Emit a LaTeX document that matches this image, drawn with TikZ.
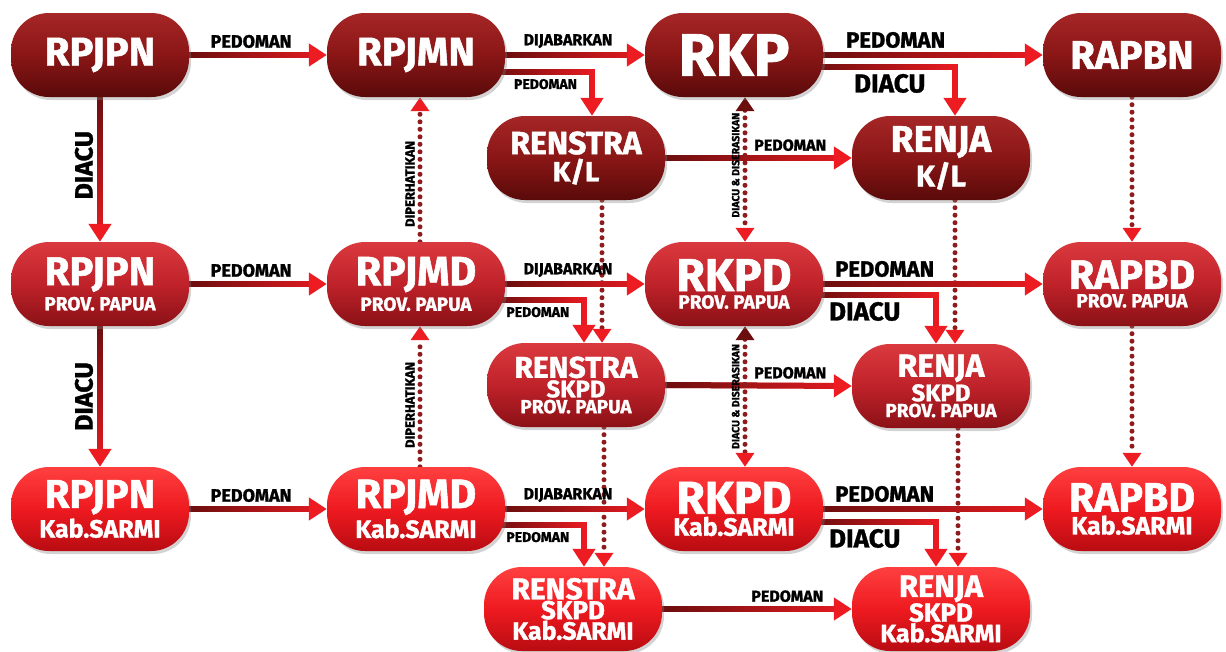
\documentclass[tikz,border=0pt]{standalone}
\usepackage{fontspec}
\setmainfont{Fira Sans}[BoldFeatures={FakeBold=1.3}]
\usetikzlibrary{arrows.meta,shadows,fadings,backgrounds}
\definecolor{aTop}{HTML}{A62626}
\definecolor{aMid}{HTML}{8A1616}
\definecolor{aBot}{HTML}{5A0A0A}
\definecolor{bTop}{HTML}{DA3A3E}
\definecolor{bMid}{HTML}{C0222A}
\definecolor{bBot}{HTML}{8A1116}
\definecolor{cTop}{HTML}{FF4040}
\definecolor{cMid}{HTML}{EE1A20}
\definecolor{cBot}{HTML}{B80C12}
\definecolor{arrred}{HTML}{EC1C22}
\definecolor{arrdark}{HTML}{6A0E0E}
\definecolor{dotc}{HTML}{8E1C1C}
\newcommand\fsz[1]{\fontsize{#1}{#1}\selectfont}
\begin{document}
\begin{tikzpicture}[x=1pt,y=-1pt,
  pill/.style={rectangle, rounded corners=38pt, minimum width=178pt, minimum height=84pt,
    align=center, text=white, inner sep=0pt, font=\bfseries\fontsize{10}{1}\selectfont,
    drop shadow={opacity=0.35, shadow xshift=2pt, shadow yshift=-3pt}},
  lvA/.style={pill, top color=aTop, bottom color=aBot, middle color=aMid},
  lvB/.style={pill, top color=bTop, bottom color=bBot, middle color=bMid},
  lvC/.style={pill, top color=cTop, bottom color=cBot, middle color=cMid},
  conn/.style={draw=arrred, line width=6pt, -{Triangle[width=22pt,length=18pt]}},
  gradE/.style={postaction={draw=arrdark, -, shorten >=18pt, path fading=east}},
  gradS/.style={postaction={draw=arrdark, -, shorten >=18pt, path fading=south}},
  dotl/.style={draw=dotc, line width=5pt, line cap=round, dash pattern=on 0pt off 7.5pt,
    -{Triangle[width=18pt,length=14pt,color=arrred]}},
  dotb/.style={draw=dotc, line width=5pt, line cap=round, dash pattern=on 0pt off 7.5pt,
    {Triangle[width=18pt,length=14pt,color=arrdark]}-{Triangle[width=18pt,length=14pt,color=arrred]}},
  lab/.style={text=black, inner sep=1pt, font=\bfseries\fsz{18}},
  labS/.style={lab, font=\bfseries\fsz{14}},
  labM/.style={lab, font=\bfseries\fsz{16}},
  labL/.style={lab, font=\bfseries\fsz{22}},
  labXL/.style={lab, font=\bfseries\fsz{26}},
  labV/.style={lab, rotate=90, anchor=south, inner sep=4pt, font=\bfseries\fsz{25}},
  labP/.style={lab, rotate=90, anchor=south, inner sep=3pt, font=\bfseries\fsz{13}},
  labD/.style={lab, rotate=90, anchor=south, inner sep=3pt, font=\bfseries\fsz{10.5}}
]
\useasboundingbox (0,0) rectangle (1226,651);
% ---------- row 1 ----------
\node[lvA] (rpjpn)   at (100,55)  {{\fsz{40}RPJPN}};
\node[lvA] (rpjmn)   at (416,55)  {{\fsz{40}RPJMN}};
\node[lvA] (rkp)     at (734,55)  {{\fsz{60}RKP}};
\node[lvA] (rapbn)   at (1132,55) {{\fsz{40}RAPBN}};
\node[lvA] (renstra1) at (576,158) {{\fsz{32}RENSTRA}\\[3pt]{\fsz{28}K/L}};
\node[lvA] (renja1)  at (941,158) {{\fsz{37}RENJA}\\[3pt]{\fsz{30}K/L}};
% ---------- row 2 ----------
\node[lvB] (rpjpn2)  at (100,284) {{\fsz{40}RPJPN}\\[4pt]{\fsz{19}PROV. PAPUA}};
\node[lvB] (rpjmd2)  at (416,284) {{\fsz{41}RPJMD}\\[4pt]{\fsz{19}PROV. PAPUA}};
\node[lvB] (rkpd2)   at (734,284) {{\fsz{46}RKPD}\\[3pt]{\fsz{19}PROV. PAPUA}};
\node[lvB] (rapbd2)  at (1132,284) {{\fsz{41}RAPBD}\\[4pt]{\fsz{19}PROV. PAPUA}};
\node[lvB] (renstra2) at (576,385) {{\fsz{30}RENSTRA}\\[1pt]{\fsz{24}SKPD}\\[1pt]{\fsz{19}PROV. PAPUA}};
\node[lvB] (renja2)  at (941,386) {{\fsz{32}RENJA}\\[1pt]{\fsz{24}SKPD}\\[1pt]{\fsz{19}PROV. PAPUA}};
% ---------- row 3 ----------
\node[lvC] (rpjpn3)  at (100,509) {{\fsz{40}RPJPN}\\[3pt]{\fsz{25}Kab.SARMI}};
\node[lvC] (rpjmd3)  at (416,509) {{\fsz{41}RPJMD}\\[3pt]{\fsz{25}Kab.SARMI}};
\node[lvC] (rkpd3)   at (734,509) {{\fsz{46}RKPD}\\[2pt]{\fsz{25}Kab.SARMI}};
\node[lvC] (rapbd3)  at (1132,509) {{\fsz{41}RAPBD}\\[3pt]{\fsz{25}Kab.SARMI}};
\node[lvC] (renstra3) at (573,609) {{\fsz{30}RENSTRA}\\[0pt]{\fsz{26}SKPD}\\[0pt]{\fsz{25}Kab.SARMI}};
\node[lvC] (renja3)  at (941,609) {{\fsz{31}RENJA}\\[0pt]{\fsz{26}SKPD}\\[0pt]{\fsz{25}Kab.SARMI}};

\begin{pgfonlayer}{background}
% ---- row 1 connectors ----
\draw[conn, gradE] (rpjpn.east) -- node[lab, above=3pt, pos=.45] {PEDOMAN} (rpjmn.west);
\draw[conn, gradE] (rpjmn.east) -- node[labM, above=3pt, pos=.45] {DIJABARKAN} (rkp.west);
\draw[conn, gradE] ([xshift=-10pt,yshift=-17pt]rpjmn.east) -| node[labS, below=3pt, pos=.26] {PEDOMAN} ([xshift=16pt]renstra1.north);
\draw[conn, gradE] (rkp.east) -- node[labL, above=3pt, pos=.33] {PEDOMAN} (rapbn.west);
\draw[conn, gradE] ([xshift=-10pt,yshift=-12pt]rkp.east) -| node[labXL, below=3pt, pos=.27] {DIACU} ([xshift=14pt]renja1.north);
\draw[conn, gradE] (renstra1.east) -- node[labM, above=3pt, pos=.67] {PEDOMAN} (renja1.west);
\draw[conn, gradS] (rpjpn.south) -- node[labV, pos=.47] {DIACU} (rpjpn2.north);
\draw[dotl] ([xshift=4pt]rpjmd2.north) -- node[labP, pos=.4] {DIPERHATIKAN} ([xshift=4pt]rpjmn.south);
\draw[dotb] ([xshift=11pt]rkp.south) -- node[labD, pos=.47] {DIACU \& DISERASIKAN} ([xshift=11pt]rkpd2.north);
\draw[dotl] (rapbn.south) -- (rapbd2.north);
\draw[dotl] ([xshift=26pt]renstra1.south) -- ([xshift=26pt]renstra2.north);
\draw[dotl] ([xshift=14pt]renja1.south) -- ([xshift=14pt]renja2.north);
% ---- row 2 connectors ----
\draw[conn, gradE] (rpjpn2.east) -- node[lab, above=3pt, pos=.45] {PEDOMAN} (rpjmd2.west);
\draw[conn, gradE] (rpjmd2.east) -- node[labM, above=3pt, pos=.45] {DIJABARKAN} (rkpd2.west);
\draw[conn, gradE] ([xshift=-10pt,yshift=-16pt]rpjmd2.east) -| node[labS, below=3pt, pos=.24] {PEDOMAN} ([xshift=8pt]renstra2.north);
\draw[conn, gradE] (rkpd2.east) -- node[labL, above=3pt, pos=.28] {PEDOMAN} (rapbd2.west);
\draw[conn, gradE] ([xshift=-10pt,yshift=-11pt]rkpd2.east) -| node[labXL, below=3pt, pos=.21] {DIACU} ([xshift=-5pt]renja2.north);
\draw[conn, gradE] (renstra2.east) -- node[labM, above=3pt, pos=.67] {PEDOMAN} (renja2.west);
\draw[conn, gradS] (rpjpn2.south) -- node[labV, pos=.5] {DIACU} (rpjpn3.north);
\draw[dotl] ([xshift=4pt]rpjmd3.north) -- node[labP, pos=.44] {DIPERHATIKAN} ([xshift=4pt]rpjmd2.south);
\draw[dotb] ([xshift=11pt]rkpd2.south) -- node[labD, pos=.5] {DIACU \& DISERASIKAN} ([xshift=11pt]rkpd3.north);
\draw[dotl] (rapbd2.south) -- (rapbd3.north);
\draw[dotl] ([xshift=28pt]renstra2.south) -- ([xshift=28pt]renstra2.south |- renstra3.north);
\draw[dotl] ([xshift=17pt]renja2.south) -- ([xshift=17pt]renja2.south |- renja3.north);
% ---- row 3 connectors ----
\draw[conn, gradE] (rpjpn3.east) -- node[lab, above=3pt, pos=.45] {PEDOMAN} (rpjmd3.west);
\draw[conn, gradE] (rpjmd3.east) -- node[labM, above=3pt, pos=.45] {DIJABARKAN} (rkpd3.west);
\draw[conn, gradE] ([xshift=-10pt,yshift=-16pt]rpjmd3.east) -| node[labS, below=3pt, pos=.24] {PEDOMAN} ([xshift=11pt]renstra3.north);
\draw[conn, gradE] (rkpd3.east) -- node[labL, above=3pt, pos=.28] {PEDOMAN} (rapbd3.west);
\draw[conn, gradE] ([xshift=-10pt,yshift=-13pt]rkpd3.east) -| node[labXL, below=3pt, pos=.21] {DIACU} ([xshift=-5pt]renja3.north);
\draw[conn, gradE] (renstra3.east) -- node[labM, above=3pt, pos=.66] {PEDOMAN} (renja3.west);
\end{pgfonlayer}
\end{tikzpicture}
\end{document}
